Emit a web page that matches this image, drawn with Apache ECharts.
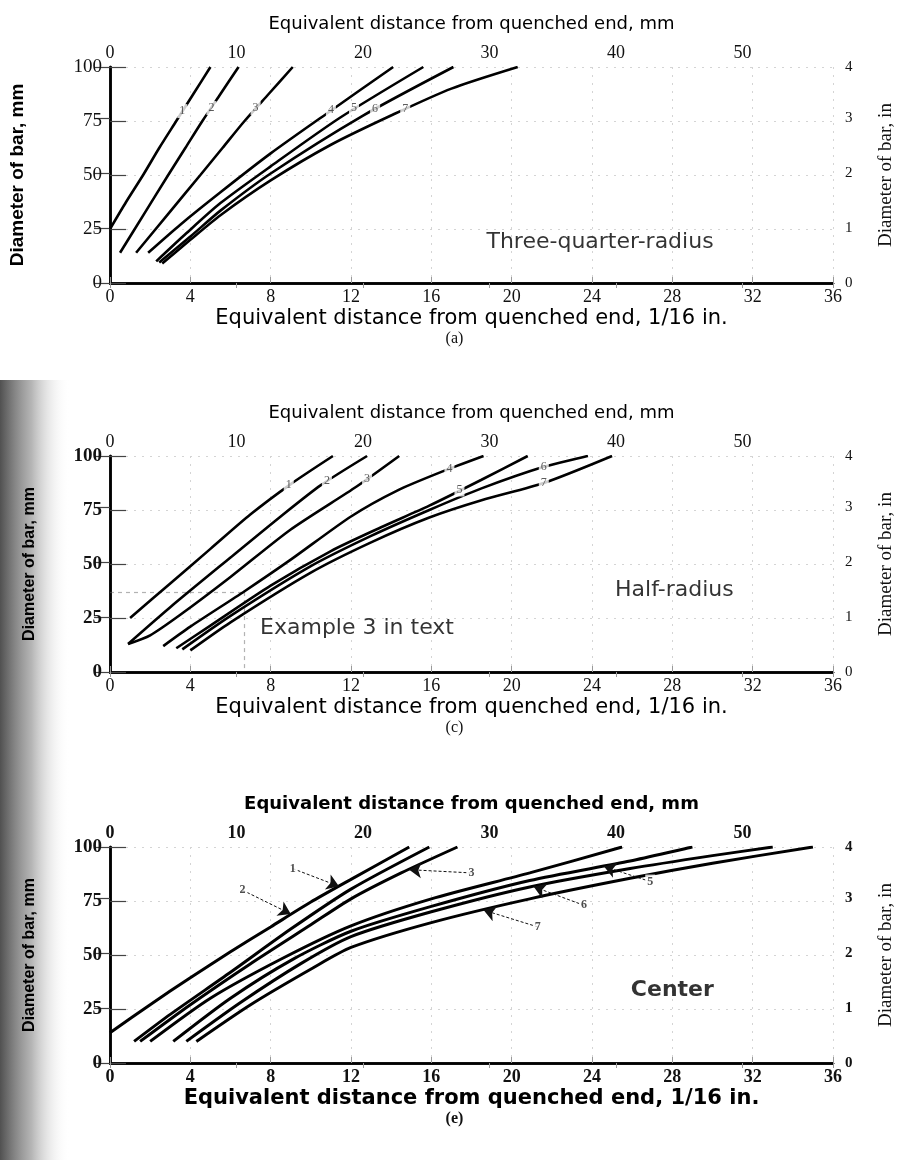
<!DOCTYPE html>
<html>
<head>
<meta charset="utf-8">
<script src="https://cdn.jsdelivr.net/npm/echarts@6/dist/echarts.min.js"></script>
<style>
html, body { margin: 0; padding: 0; background: #fff; }
#chart { width: 909px; height: 1160px; }
</style>
</head>
<body>
<div id="chart"></div>
<script>
// axis ticks
var sixteenthTicks = [0, 4, 8, 12, 16, 20, 24, 28, 32, 36];   // 1/16 in
var mmTicks = [0, 10, 20, 30, 40, 50];                         // top axis, mm
var diameterMmTicks = [0, 25, 50, 75, 100];
var diameterInTicks = [0, 1, 2, 3, 4];

// (a) three-quarter-radius : [x in 1/16 in, diameter mm]
var tq1 = [[0, 25], [0.8, 37.5], [1.65, 50], [2.45, 62.5], [3.3, 75], [4.15, 87.5], [5.0, 100]];
var tq2 = [[0.5, 14], [1.7, 32], [2.9, 50], [3.75, 62.5], [4.6, 75], [5.5, 87.5], [6.4, 100]];
var tq3 = [[1.3, 14], [2.9, 32], [4.5, 50], [5.6, 62.5], [6.7, 75], [7.9, 87.5], [9.1, 100]];
var tq4 = [[1.9, 14], [3.5, 27], [5.5, 42], [8, 60], [10.8, 78.5], [14.1, 100]];
var tq5 = [[2.3, 10], [3.8, 23], [5.5, 37], [8, 54], [11.45, 76.5], [15.6, 100]];
var tq6 = [[2.45, 9.5], [4, 21.5], [5.5, 33.5], [8, 50.7], [12.6, 77.5], [17.1, 100]];
var tq7 = [[2.6, 9], [4, 20], [5.5, 31.4], [8, 47.5], [11, 64], [14.1, 78], [17, 90], [20.3, 100]];
var tqLabels = [[3.6, 79.6, '1'], [5.05, 81, '2'], [7.25, 81, '3'], [11.0, 80, '4'], [12.15, 81, '5'], [13.2, 80.5, '6'], [14.7, 80.5, '7']];

// (c) half-radius
var hr1 = [[1.0, 25], [3, 41], [5, 57], [7, 73], [9, 87], [11.1, 100]];
var hr2 = [[0.9, 13], [3, 30], [6, 53], [8.5, 72], [10.5, 86.5], [12.8, 100]];
var hr3 = [[0.9, 13], [2, 17], [3.5, 26.5], [6, 44], [9, 66], [12.3, 86], [14.4, 100]];
var hr4 = [[2.65, 12], [4, 21], [6.7, 37.4], [9, 52], [12, 72], [14.3, 84], [16.6, 93], [18.6, 100]];
var hr5 = [[3.3, 11], [5, 21.5], [8, 40], [11, 56], [13.5, 67], [15.9, 77], [18.5, 89], [20.8, 100]];
var hr6 = [[3.6, 10.5], [6, 26], [10, 49], [13, 63], [15.9, 75], [18.5, 85], [21.6, 95], [23.8, 100]];
var hr7 = [[4.0, 10], [6, 23], [10, 46], [13, 60], [15.9, 71.5], [18.5, 79.5], [21.6, 87.5], [25, 100]];
var hrLabels = [[8.9, 86.5, '1'], [10.8, 88.5, '2'], [12.8, 89.3, '3'], [16.9, 94, '4'], [17.4, 84.5, '5'], [21.6, 95, '6'], [21.6, 87.5, '7']];
var hrExample = [[[0, 37], [6.7, 37]], [[6.7, 37], [6.7, 0]]];

// (e) center
var ce1 = [[0, 14], [2, 27], [4, 39.5], [6, 51.5], [8, 63], [10, 74.5], [12, 85], [14.9, 100]];
var ce2 = [[1.2, 10], [3, 22.5], [6, 42], [9, 62], [12, 80.5], [15.9, 100]];
var ce3 = [[1.5, 10], [4, 27], [7, 46], [10, 64], [12, 76], [14.5, 88], [17.3, 100]];
var ce4 = [[2.0, 10], [5, 30], [8.6, 48.5], [12, 63.5], [16, 76], [20.9, 88], [25.5, 100]];
var ce5 = [[3.15, 10], [6, 30], [9.1, 48], [12, 61], [16, 72.5], [20.9, 84.5], [25.9, 93.5], [29, 100]];
var ce6 = [[3.8, 10], [6.5, 28], [9.5, 46], [12, 58.5], [16, 70], [20.9, 81.5], [25.9, 90], [30, 96], [33, 100]];
var ce7 = [[4.3, 10], [7, 27], [10.1, 44], [12, 53.5], [16, 65], [20.9, 76], [25.9, 85.5], [30, 92.5], [35, 100]];
// label, label point, arrow tip
var ceArrows = [
  ['1', [9.1, 90], [11.4, 81.8]],
  ['2', [6.6, 80], [9.0, 69]],
  ['3', [18.0, 88], [14.9, 89.5]],
  ['5', [26.9, 84], [24.6, 91]],
  ['6', [23.6, 73], [21.1, 81.6]],
  ['7', [21.3, 63], [18.6, 70.8]]
];

var tqNotes = [[24.4, 19, 'Three-quarter-radius']];
var hrNotes = [[28.1, 38, 'Half-radius'], [12.3, 20.3, 'Example 3 in text']];
var ceNotes = [[28, 33.8, 'Center']];

var MM_PER_16TH = 1.5875;
var SERIF = "'Liberation Serif', 'DejaVu Serif', serif";
var SANS = "'DejaVu Sans', sans-serif";
var HIDDEN = { color: 'rgba(0,0,0,0)' };

var chart = echarts.init(document.getElementById('chart'));
var option = {
  animation: false,
  backgroundColor: '#fff',
  grid: [], xAxis: [], yAxis: [], series: [], graphic: []
};

function step(ticks) { return ticks[1] - ticks[0]; }
function third(d) { return d.value[2]; }

function addPanel(p, top, curves, labels, notes, caption, heavy) {
  var xi = 2 * p, yi = 2 * p;
  var weight = heavy ? 'bold' : 'normal';
  option.grid.push({ left: 110, right: 76, top: top, height: 216 });

  option.xAxis.push({
    type: 'value', gridIndex: p, position: 'bottom',
    min: sixteenthTicks[0], max: sixteenthTicks[sixteenthTicks.length - 1], interval: step(sixteenthTicks),
    name: 'Equivalent distance from quenched end, 1/16 in.',
    nameLocation: 'middle', nameGap: 25,
    nameTextStyle: { fontFamily: SANS, fontSize: 21, color: '#000', fontWeight: weight },
    axisLine: { lineStyle: { color: '#000', width: 2.5 } },
    axisTick: { inside: true, length: 6, lineStyle: { color: '#999' } },
    axisLabel: { fontFamily: SERIF, fontSize: 18, color: '#111', margin: 5, fontWeight: weight },
    splitLine: { show: true, lineStyle: { color: '#d4d4d4', type: [2, 6] } }
  });
  option.xAxis.push({
    type: 'value', gridIndex: p, position: 'top',
    min: 0, max: sixteenthTicks[sixteenthTicks.length - 1] * MM_PER_16TH, interval: step(mmTicks),
    name: 'Equivalent distance from quenched end, mm',
    nameLocation: 'middle', nameGap: 34,
    nameTextStyle: { fontFamily: SANS, fontSize: 18, color: '#000', fontWeight: weight },
    axisLine: { lineStyle: { color: '#000', width: 2.5 } },
    axisTick: { inside: true, length: 5, lineStyle: { color: '#999' } },
    axisLabel: {
      fontFamily: SERIF, fontSize: 18, color: '#111', margin: 5, fontWeight: weight,
      formatter: function (v) { return mmTicks.indexOf(v) >= 0 ? String(v) : ''; }
    },
    splitLine: { show: false }
  });

  option.yAxis.push({
    type: 'value', gridIndex: p, position: 'left',
    min: diameterMmTicks[0], max: diameterMmTicks[diameterMmTicks.length - 1], interval: step(diameterMmTicks),
    name: 'Diameter of bar, mm',
    nameLocation: 'middle', nameGap: p === 0 ? 83 : 72,
    nameTextStyle: { fontFamily: "'Liberation Sans', sans-serif", fontSize: p === 0 ? 19 : 16, fontWeight: 'bold', color: '#000' },
    axisLine: { lineStyle: { color: '#000', width: 2.5 } },
    axisTick: { inside: true, length: 16, lineStyle: { color: '#444', width: 1.2 } },
    axisLabel: { fontFamily: SERIF, fontSize: 19, color: '#111', margin: 8, fontWeight: p === 0 ? 'normal' : 'bold' },
    splitLine: { show: true, lineStyle: { color: '#d4d4d4', type: [2, 6] } }
  });
  option.yAxis.push({
    type: 'value', gridIndex: p, position: 'right',
    min: 0, max: diameterMmTicks[diameterMmTicks.length - 1] / 25.4, interval: step(diameterInTicks),
    name: 'Diameter of bar, in',
    nameLocation: 'middle', nameGap: 44, nameRotate: 90,
    nameTextStyle: { fontFamily: SERIF, fontSize: 19, color: '#111' },
    axisLine: { lineStyle: { color: '#000', width: 2.5 } },
    axisTick: { inside: true, length: 16, lineStyle: { color: '#444', width: 1.2 } },
    axisLabel: {
      fontFamily: SERIF, fontSize: 15, color: '#111', margin: 12, fontWeight: weight,
      formatter: function (v) { return String(Math.round(v)); }
    },
    splitLine: { show: false }
  });

  curves.forEach(function (c) {
    option.series.push({
      type: 'line', xAxisIndex: xi, yAxisIndex: yi, data: c,
      smooth: 0.25, symbol: 'none', clip: true, z: 3,
      lineStyle: { color: '#000', width: heavy ? 3 : 2.6 }
    });
  });

  if (labels.length) {
    option.series.push({
      type: 'scatter', xAxisIndex: xi, yAxisIndex: yi, data: labels,
      symbolSize: 1, itemStyle: HIDDEN, z: 6,
      label: {
        show: true, position: 'inside', formatter: third, textBorderWidth: 0,
        fontFamily: SERIF, fontSize: 12, color: '#333', backgroundColor: '#fff', padding: [1, 2]
      }
    });
  }

  option.series.push({
    type: 'scatter', xAxisIndex: xi, yAxisIndex: yi, data: notes,
    symbolSize: 1, itemStyle: HIDDEN, z: 6,
    label: {
      show: true, position: 'inside', formatter: third, textBorderWidth: 0,
      fontFamily: SANS, fontSize: 22, color: '#000', fontWeight: weight
    }
  });

  option.graphic.push({
    type: 'text', left: 'center', top: top + 216 + 48,
    style: { text: caption, font: (heavy ? 'bold ' : '') + '16px ' + SERIF, fill: '#111' }
  });
}

addPanel(0, 67, [tq1, tq2, tq3, tq4, tq5, tq6, tq7], tqLabels, tqNotes, '(a)', false);
addPanel(1, 456, [hr1, hr2, hr3, hr4, hr5, hr6, hr7], hrLabels, hrNotes, '(c)', false);
addPanel(2, 847, [ce1, ce2, ce3, ce4, ce5, ce6, ce7], [], ceNotes, '(e)', true);

// Example 3 construction lines on (c)
option.series.push({
  type: 'lines', coordinateSystem: 'cartesian2d', xAxisIndex: 2, yAxisIndex: 2, z: 2,
  data: hrExample.map(function (s) { return { coords: s }; }),
  lineStyle: { color: '#666', width: 1.2, type: [4, 4] }, symbol: 'none'
});

// callout arrows on (e)
option.series.push({
  type: 'lines', coordinateSystem: 'cartesian2d', xAxisIndex: 4, yAxisIndex: 4, z: 4,
  data: ceArrows.map(function (a) { return { coords: [a[1], a[2]] }; }),
  symbol: ['none', 'arrow'], symbolSize: [6, 12],
  lineStyle: { color: '#111', width: 1, type: [3, 2], opacity: 1 }
});
option.series.push({
  type: 'scatter', xAxisIndex: 4, yAxisIndex: 4, z: 6,
  data: ceArrows.map(function (a) { return [a[1][0], a[1][1], a[0]]; }),
  symbolSize: 1, itemStyle: HIDDEN,
  label: {
    show: true, position: 'inside', formatter: third, textBorderWidth: 0,
    fontFamily: SERIF, fontSize: 12, fontWeight: 'bold', color: '#222', backgroundColor: '#fff', padding: [1, 2]
  }
});

// scanner shadow along the left margin
option.graphic.push({
  type: 'rect', left: 0, top: 380, z: -10, silent: true,
  shape: { width: 70, height: 780 },
  style: {
    fill: new echarts.graphic.LinearGradient(0, 0, 1, 0, [
      { offset: 0, color: 'rgba(50,50,50,0.85)' },
      { offset: 0.45, color: 'rgba(120,120,120,0.55)' },
      { offset: 1, color: 'rgba(255,255,255,0)' }
    ])
  }
});

chart.setOption(option);
</script>
</body>
</html>
